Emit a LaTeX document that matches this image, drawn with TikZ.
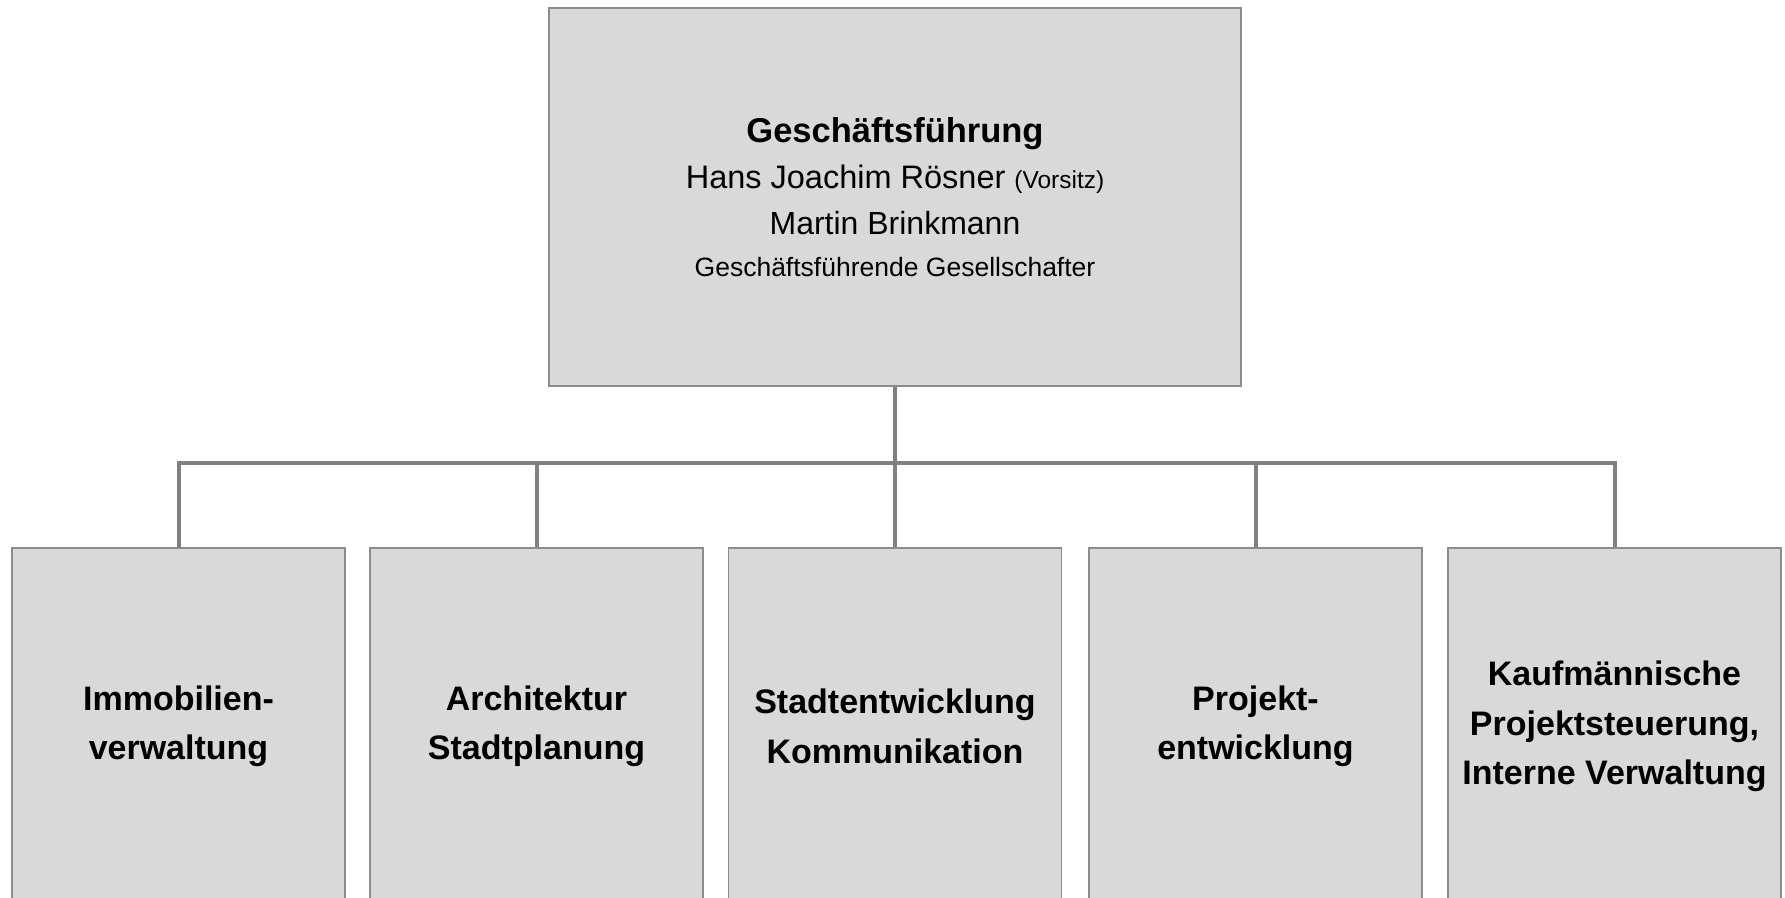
\documentclass[tikz,border=0pt]{standalone}
\usepackage{fontspec}
\setmainfont{Liberation Sans}
\definecolor{boxfill}{HTML}{D9D9D9}
\definecolor{boxline}{HTML}{8C8C8C}
\definecolor{connline}{HTML}{808080}
\begin{document}
\begin{tikzpicture}[x=1pt,y=-1pt,
  orgbox/.style={draw=boxline, line width=1.2pt, fill=boxfill, inner sep=0pt, align=center},
  unitbox/.style={orgbox, minimum width=333pt, minimum height=357pt,
     font=\fontsize{34}{49.5}\selectfont\bfseries},
  conn/.style={draw=connline, line width=4pt, line join=miter}]
\useasboundingbox (0,0) rectangle (1785,897);
\node[orgbox, minimum width=692pt, minimum height=378pt,
      font=\fontsize{32}{46}\selectfont] (top) at (895,197)
  {{\fontsize{34.5}{46}\selectfont\bfseries Geschäftsführung}\\
   {\fontsize{32.5}{46}\selectfont Hans Joachim Rösner} {\fontsize{24.5}{46}\selectfont(Vorsitz)}\\
   Martin Brinkmann\\[-4pt]
   {\fontsize{26.5}{46}\selectfont Geschäftsführende Gesellschafter}};
\node[unitbox] (b1) at (178.5,726.5) {Immobilien-\\verwaltung};
\node[unitbox] (b2) at (536.5,726.5) {Architektur\\Stadtplanung};
\node[unitbox] (b3) at (895,726.5) {Stadtentwicklung\\Kommunikation};
\node[unitbox] (b4) at (1255.5,726.5) {Projekt-\\entwicklung};
\node[unitbox] (b5) at (1614.5,726.5) {Kaufmännische\\Projektsteuerung,\\Interne Verwaltung};
\coordinate (bus) at (895,463);
\draw[conn] (top.south) -- (b3.north);
\draw[conn] (b1.north) -- (b1.north |- bus) -- (b5.north |- bus) -- (b5.north);
\draw[conn] (b2.north) -- (b2.north |- bus);
\draw[conn] (b4.north) -- (b4.north |- bus);
\end{tikzpicture}
\end{document}
